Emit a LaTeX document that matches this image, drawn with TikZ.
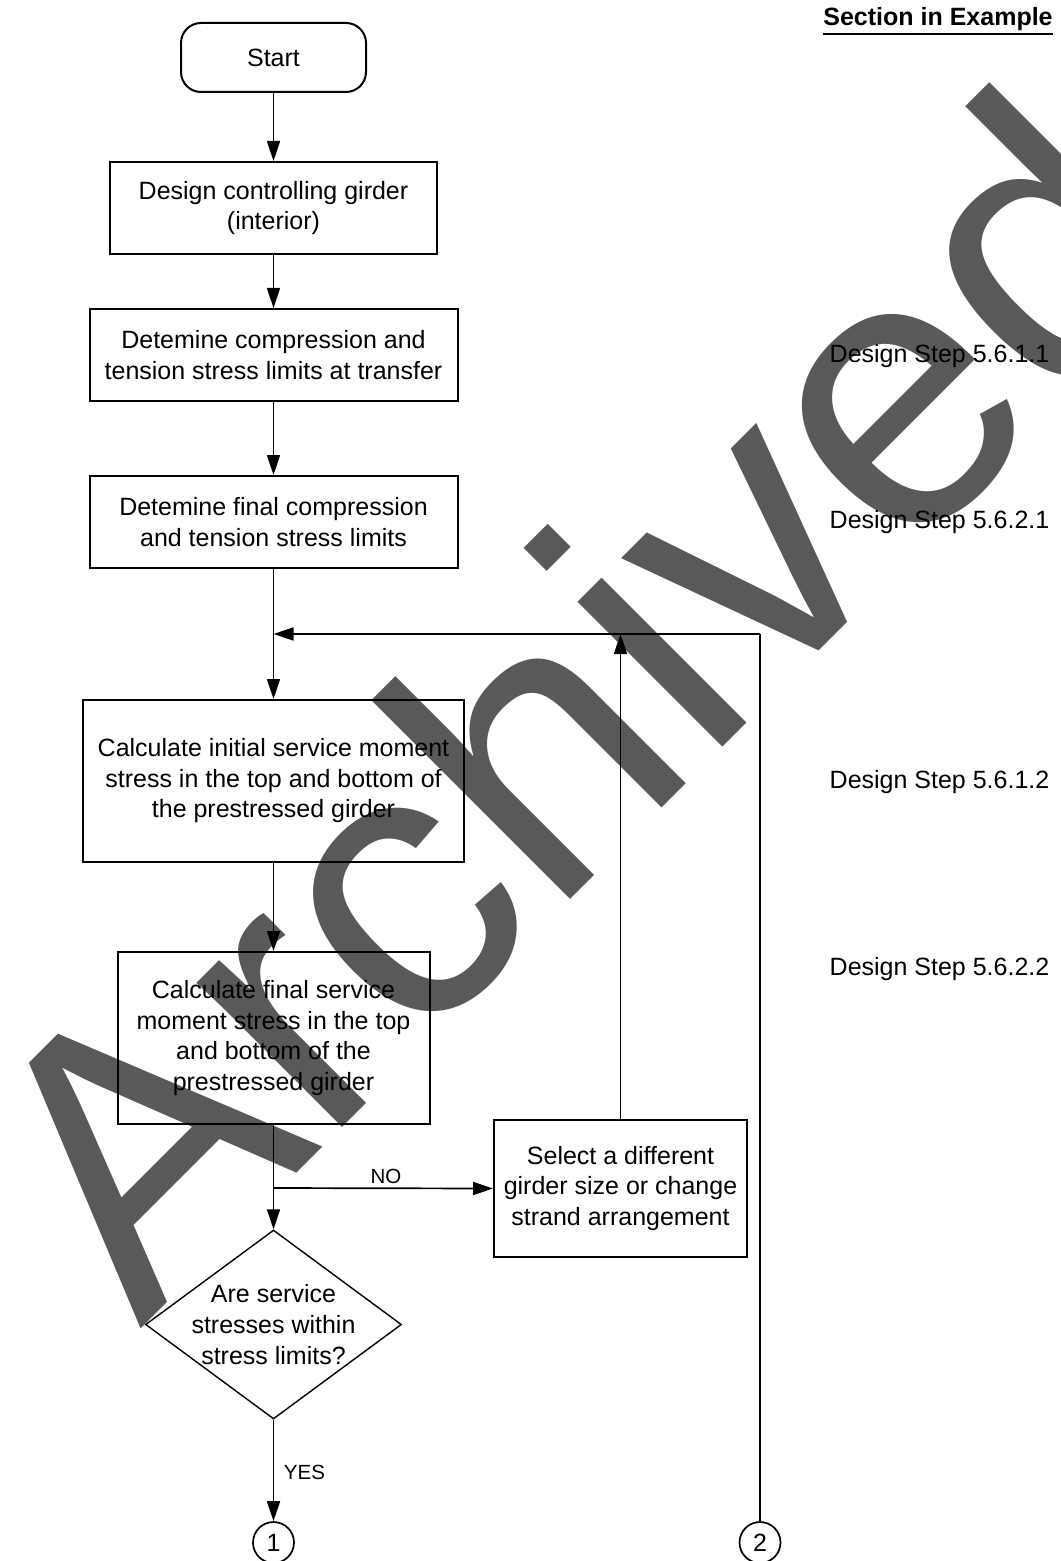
\documentclass[tikz,border=0pt]{standalone}
\usepackage{fontspec}
\setmainfont{Liberation Sans}
\usetikzlibrary{arrows.meta,shapes.geometric}

\definecolor{wmgray}{RGB}{89,89,89}

\begin{document}
\begin{tikzpicture}[x=0.5pt,y=-0.5pt,
  font=\fontsize{12.5pt}{15.35pt}\selectfont,
  box/.style={draw,line width=1pt,inner sep=0pt,align=center},
  flow/.style={draw,line width=0.85pt,-{Triangle[length=10pt,width=6.5pt]}},
  wire/.style={draw,line width=0.85pt},
  tag/.style={anchor=base west,inner sep=0pt},
  lbl/.style={anchor=base,inner sep=0pt,font=\fontsize{10.25pt}{12pt}\selectfont},
  pageref/.style={draw,circle,line width=0.85pt,minimum size=20.5pt,inner sep=0pt},
]
\useasboundingbox (0,0) rectangle (1060,1561);

% watermark behind everything
\node[anchor=base west,rotate=45,inner sep=0pt,text=wmgray,
      font=\fontsize{194pt}{200pt}\selectfont] (wm) at (140,1330) {Archived};

% column header
\node[tag,font=\fontsize{12.5pt}{15pt}\selectfont\bfseries] (sec) at (823,26) {Section in Example};
\draw[line width=1pt] ([yshift=-1pt]sec.south west) -- ([yshift=-1pt]sec.south east);

% flow chart
\node[box,rounded corners=10pt,minimum width=92.5pt,minimum height=34.5pt] (start) at (273.5,57.5) {Start};
\node[box,minimum width=163.75pt,minimum height=46pt] (b1) at (273.5,208) {Design controlling girder\\(interior)};
\node[box,minimum width=184pt,minimum height=46pt] (b2) at (273.5,355) {Detemine compression and\\tension stress limits at transfer};
\node[box,minimum width=184pt,minimum height=46pt] (b3) at (273.5,522) {Detemine final compression\\and tension stress limits};
\node[box,minimum width=190.5pt,minimum height=80.75pt] (b4) at (273.5,780.75) {Calculate initial service moment\\stress in the top and bottom of\\the prestressed girder};
\node[box,minimum width=156pt,minimum height=86pt] (b5) at (273.5,1038) {Calculate final service\\moment stress in the top\\and bottom of the\\prestressed girder};
\node[draw,diamond,line width=0.7pt,minimum width=128pt,minimum height=94.5pt,inner sep=0pt] (dec) at (273.5,1324.5) {};
\node[align=center,inner sep=0pt] (dectext) at (dec.center) {Are service\\stresses within\\stress limits?};
\node[box,minimum width=126.5pt,minimum height=68.5pt] (b6) at (620.5,1188.5) {Select a different\\girder size or change\\strand arrangement};
\node[pageref] (c1) at (273.5,1542.5) {1};
\node[pageref] (c2) at (760,1542.5) {2};

% section references
\node[tag] (s1) at (829.3,362.7) {Design Step 5.6.1.1};
\node[tag] (s2) at (829.3,528.3) {Design Step 5.6.2.1};
\node[tag] (s3) at (829.3,788.3) {Design Step 5.6.1.2};
\node[tag] (s4) at (829.3,975) {Design Step 5.6.2.2};

% junction points
\coordinate (jtop) at (273.5,634);
\coordinate (jbot) at (273.5,1188);
\coordinate (loop) at (760,634);
\coordinate (up) at (620.5,634);

% connectors
\draw[flow] (start) -- (b1);
\draw[flow] (b1) -- (b2);
\draw[flow] (b2) -- (b3);
\draw[flow] (b3) -- (b4);
\draw[flow] (b4) -- (b5);
\draw[flow] (b5) -- (dec);
\draw[flow] (dec) -- (c1);
\draw[flow] (jbot) -- (b6.west);
\draw[flow] (b6.north) -- (up);
\draw[wire] (c2.north) -- (loop);
\draw[flow] (loop) -- (jtop);

\node[lbl] (no) at (386,1183) {NO};
\node[lbl] (yes) at (304.5,1479) {YES};
\end{tikzpicture}
\end{document}
